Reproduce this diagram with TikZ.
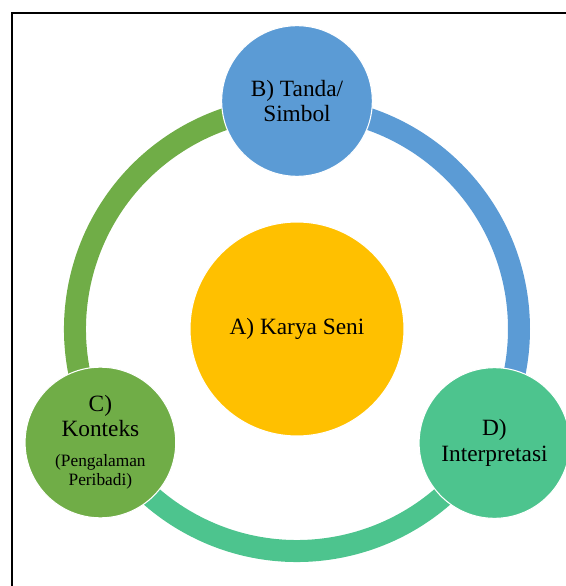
\documentclass[tikz,border=0pt]{standalone}
\usepackage{fontspec}
\setmainfont{Liberation Serif}
\usetikzlibrary{positioning}
\definecolor{biru}{RGB}{91,155,213}
\definecolor{hijau}{RGB}{112,173,71}
\definecolor{tosca}{RGB}{77,196,142}
\definecolor{kuning}{RGB}{255,192,0}
\newcommand{\kecil}{\fontsize{13}{14}\selectfont}

\begin{document}
\begin{tikzpicture}[x=.75pt, y=.75pt,
  bulat/.style={circle, draw=white, line width=.8pt, align=center, inner sep=0pt, minimum size=113pt, font=\fontsize{17.5}{19}\selectfont},
  cincin/.style={line width=16.5pt}]
\useasboundingbox (-297,-257) rectangle (268,329);
\draw[line width=1pt] (-285,-270)--(-285,316)--(280,316);
\draw[cincin, biru] (90:222) arc (90:-30:222);
\draw[cincin, tosca] (-30:222) arc (-30:-150:222);
\draw[cincin, hijau] (210:222) arc (210:90:222);
\node[bulat, fill=kuning, minimum size=160.5pt] (A) at (0,0) {A) Karya Seni};
\node[bulat, fill=biru] (B) at (90:228) {B) Tanda/\\Simbol};
\node[bulat, fill=hijau] (C) at (210:227) {C)\\Konteks\\[3.5pt]{\kecil(Pengalaman}\\[-4.75pt]{\kecil Peribadi)}};
\node[bulat, fill=tosca] (D) at (-30:228) {D)\\Interpretasi};
\end{tikzpicture}
\end{document}
